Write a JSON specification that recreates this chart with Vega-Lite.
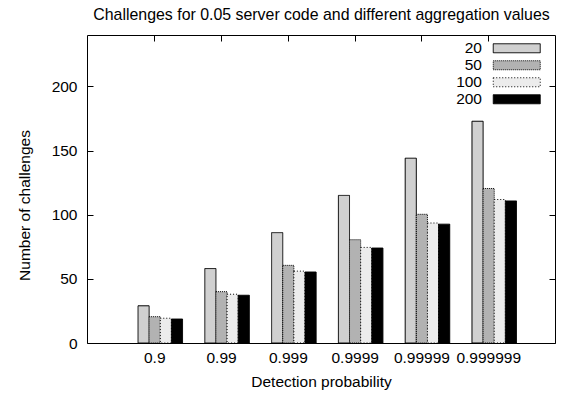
{
  "$schema": "https://vega.github.io/schema/vega-lite/v6.json",
  "width": 468,
  "height": 308,
  "autosize": {"type": "none"},
  "padding": {"left": 87, "top": 35, "right": 7, "bottom": 56},
  "config": {
    "view": {"stroke": "black", "strokeWidth": 1},
    "font": "Liberation Sans",
    "axis": {
      "labelFont": "Liberation Sans",
      "labelFontSize": 15.5,
      "labelColor": "black",
      "titleFont": "Liberation Sans",
      "titleFontSize": 15.5,
      "titleFontWeight": "normal",
      "titleColor": "black",
      "tickColor": "black",
      "tickWidth": 1,
      "domain": false,
      "grid": false,
      "zindex": 1
    },
    "legend": {
      "labelFont": "Liberation Sans",
      "labelFontSize": 15.5,
      "labelColor": "black"
    }
  },
  "data": {
    "values": [
      {"prob": "0.9", "agg": 20, "value": 29},
      {"prob": "0.9", "agg": 50, "value": 20.5},
      {"prob": "0.9", "agg": 100, "value": 19.3},
      {"prob": "0.9", "agg": 200, "value": 18.7},
      {"prob": "0.99", "agg": 20, "value": 58},
      {"prob": "0.99", "agg": 50, "value": 40},
      {"prob": "0.99", "agg": 100, "value": 38},
      {"prob": "0.99", "agg": 200, "value": 37.2},
      {"prob": "0.999", "agg": 20, "value": 86},
      {"prob": "0.999", "agg": 50, "value": 60.5},
      {"prob": "0.999", "agg": 100, "value": 56},
      {"prob": "0.999", "agg": 200, "value": 55.3},
      {"prob": "0.9999", "agg": 20, "value": 115},
      {"prob": "0.9999", "agg": 50, "value": 80.5},
      {"prob": "0.9999", "agg": 100, "value": 74.5},
      {"prob": "0.9999", "agg": 200, "value": 74},
      {"prob": "0.99999", "agg": 20, "value": 144},
      {"prob": "0.99999", "agg": 50, "value": 100.3},
      {"prob": "0.99999", "agg": 100, "value": 93.5},
      {"prob": "0.99999", "agg": 200, "value": 92.6},
      {"prob": "0.999999", "agg": 20, "value": 172.8},
      {"prob": "0.999999", "agg": 50, "value": 120.4},
      {"prob": "0.999999", "agg": 100, "value": 111.8},
      {"prob": "0.999999", "agg": 200, "value": 110.7}
    ]
  },
  "layer": [
    {
      "mark": {"type": "bar", "stroke": "black", "strokeWidth": 1},
      "encoding": {
        "x": {
          "field": "prob",
          "type": "nominal",
          "scale": {"paddingInner": 0.3333, "paddingOuter": 0.67, "align": 0.57},
          "axis": {
            "title": "Detection probability",
            "labelAngle": 0,
            "tickOffset": -6,
            "tickSize": -6,
            "labelPadding": 13,
            "titleY": 38,
            "titleBaseline": "middle"
          }
        },
        "xOffset": {"field": "agg", "type": "ordinal", "sort": [20, 50, 100, 200]},
        "y": {
          "field": "value",
          "type": "quantitative",
          "scale": {"domain": [0, 240], "nice": false},
          "axis": {
            "title": "Number of challenges",
            "values": [0, 50, 100, 150, 200],
            "tickSize": -6,
            "labelPadding": 16,
            "titleX": -63,
            "titleY": 170,
            "titleBaseline": "middle"
          }
        },
        "fill": {
          "field": "agg",
          "type": "ordinal",
          "scale": {"domain": [20, 50, 100, 200], "range": ["#d0d0d0", "#b2b2b2", "#ececec", "#000000"]},
          "legend": {
            "title": null,
            "orient": "none",
            "legendX": 403,
            "legendY": 5.5,
            "symbolType": "M-5.222,-1H5.222V1H-5.222Z",
            "symbolSize": 81,
            "symbolOffset": 19,
            "symbolStrokeColor": "black",
            "symbolStrokeWidth": 1,
            "labelAlign": "right",
            "labelOffset": -42.5,
            "rowPadding": -0.3
          }
        },
        "strokeDash": {
          "field": "agg",
          "type": "ordinal",
          "scale": {"domain": [20, 50, 100, 200], "range": [[1, 0], [1, 1], [1, 2], [1, 0]]},
          "legend": null
        }
      }
    },
    {
      "mark": {"type": "bar", "opacity": 0},
      "encoding": {
        "x": {
          "field": "prob",
          "type": "nominal",
          "axis": {
            "orient": "top",
            "labels": false,
            "title": "Challenges for 0.05 server code and different aggregation values",
            "titleFontSize": 15.9,
            "titleY": -16,
            "titleBaseline": "alphabetic",
            "titleAnchor": "middle",
            "tickOffset": -6,
            "tickSize": -6
          }
        },
        "y": {
          "field": "value",
          "type": "quantitative",
          "axis": {"orient": "right", "labels": false, "title": null, "values": [0, 50, 100, 150, 200], "tickSize": -6}
        }
      }
    }
  ],
  "resolve": {"axis": {"x": "independent", "y": "independent"}}
}
